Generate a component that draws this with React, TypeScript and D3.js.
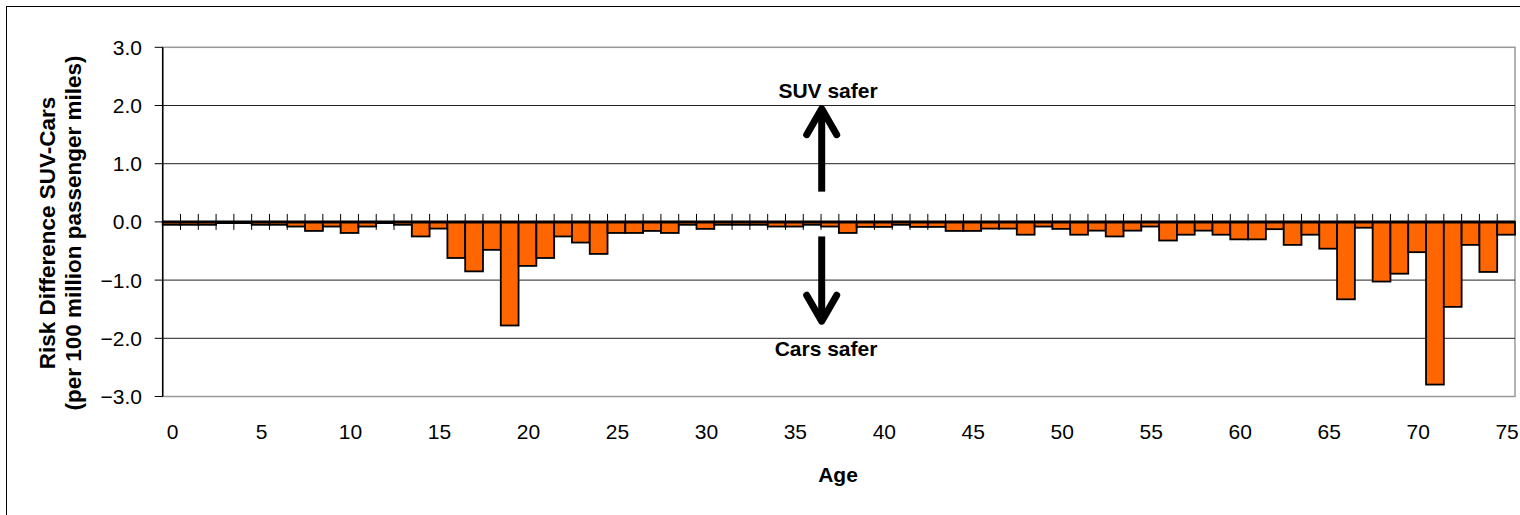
import React, { useRef, useEffect } from "react";
import * as d3 from "d3";

// ages 0..75
const ages: number[] = d3.range(0, 76);

// risk difference SUV-Cars per age
const riskDiff: number[] = [
  -0.05, -0.05, -0.05, -0.02, -0.02, -0.05, -0.05, -0.08, -0.155, -0.08,
  -0.19, -0.08, -0.02, -0.05, -0.25, -0.115, -0.62, -0.85, -0.48, -1.78,
  -0.756, -0.62, -0.25, -0.355, -0.55, -0.19, -0.19, -0.155, -0.19, -0.05,
  -0.12, -0.05, -0.05, -0.05, -0.08, -0.08, -0.05, -0.08, -0.19, -0.086,
  -0.086, -0.05, -0.086, -0.086, -0.155, -0.155, -0.115, -0.115, -0.22, -0.08,
  -0.12, -0.22, -0.15, -0.25, -0.15, -0.08, -0.32, -0.22, -0.15, -0.22,
  -0.3, -0.3, -0.125, -0.395, -0.22, -0.46, -1.33, -0.1, -1.025, -0.89,
  -0.52, -2.795, -1.46, -0.395, -0.86, -0.22,
];

const yTicks: number[] = [3, 2, 1, 0, -1, -2, -3];
const xLabelAges: number[] = [0, 5, 10, 15, 20, 25, 30, 35, 40, 45, 50, 55, 60, 65, 70, 75];

const FONT = "Arial, 'Liberation Sans', sans-serif";

const RiskChart = ({ width = 1520, height = 515 }) => {
  const ref = useRef<SVGSVGElement>(null);

  useEffect(() => {
    const svg = d3.select(ref.current);
    svg.selectAll("*").remove();

    const left = 162.7;
    const right = 1515;
    const top = 47.3;
    const bottom = 396.5;

    const x = d3
      .scaleBand<number>()
      .domain(ages)
      .range([left, right])
      .paddingInner(0)
      .paddingOuter(0);

    const y = d3.scaleLinear().domain([-3, 3]).range([bottom, top]);

    // chart area border
    svg
      .append("rect")
      .attr("x", 6.5)
      .attr("y", 6.5)
      .attr("width", width + 20)
      .attr("height", height + 20)
      .attr("fill", "white")
      .attr("stroke", "#000")
      .attr("stroke-width", 1);

    // plot area border
    svg
      .append("rect")
      .attr("x", left)
      .attr("y", top)
      .attr("width", right - left)
      .attr("height", bottom - top)
      .attr("fill", "none")
      .attr("stroke", "#999")
      .attr("stroke-width", 1.5);

    // gridlines
    svg
      .append("g")
      .selectAll("line")
      .data(yTicks.filter((d) => d !== 0 && Math.abs(d) !== 3))
      .enter()
      .append("line")
      .attr("x1", left)
      .attr("x2", right)
      .attr("y1", (d) => y(d))
      .attr("y2", (d) => y(d))
      .attr("stroke", "#222")
      .attr("stroke-width", 1);

    // bars
    svg
      .append("g")
      .selectAll("rect")
      .data(riskDiff)
      .enter()
      .append("rect")
      .attr("x", (d, i) => x(ages[i])!)
      .attr("width", x.bandwidth())
      .attr("y", (d) => y(Math.max(0, d)))
      .attr("height", (d) => Math.abs(y(d) - y(0)))
      .attr("fill", "#FF6600")
      .attr("stroke", "#000")
      .attr("stroke-width", 1.8);

    // x axis (zero line) with ticks crossing it
    svg
      .append("line")
      .attr("x1", left)
      .attr("x2", right)
      .attr("y1", y(0))
      .attr("y2", y(0))
      .attr("stroke", "#000")
      .attr("stroke-width", 3);

    svg
      .append("g")
      .selectAll("line")
      .data(ages.slice(1))
      .enter()
      .append("line")
      .attr("x1", (d) => x(d)!)
      .attr("x2", (d) => x(d)!)
      .attr("y1", y(0) - 8)
      .attr("y2", y(0) + 8)
      .attr("stroke", "#000")
      .attr("stroke-width", 1);

    // x labels
    svg
      .append("g")
      .selectAll("text")
      .data(xLabelAges)
      .enter()
      .append("text")
      .attr("x", (d) => x(d)! + x.bandwidth() / 2 + 1)
      .attr("y", 439)
      .attr("text-anchor", "middle")
      .attr("font-family", FONT)
      .attr("font-size", 21)
      .text((d) => d);

    // y axis
    svg
      .append("line")
      .attr("x1", left)
      .attr("x2", left)
      .attr("y1", top)
      .attr("y2", bottom)
      .attr("stroke", "#000")
      .attr("stroke-width", 1.5);

    const yAxis = svg.append("g");
    yAxis
      .selectAll("line")
      .data(yTicks)
      .enter()
      .append("line")
      .attr("x1", left - 8)
      .attr("x2", left)
      .attr("y1", (d) => y(d))
      .attr("y2", (d) => y(d))
      .attr("stroke", "#000")
      .attr("stroke-width", 1);
    yAxis
      .selectAll("text")
      .data(yTicks)
      .enter()
      .append("text")
      .attr("x", 142)
      .attr("y", (d) => y(d))
      .attr("dy", "0.36em")
      .attr("text-anchor", "end")
      .attr("font-family", FONT)
      .attr("font-size", 21)
      .text((d) => d3.format(".1f")(d));

    // axis titles
    const yTitle = svg
      .append("text")
      .attr("transform", "translate(55,233) rotate(-90)")
      .attr("text-anchor", "middle")
      .attr("font-family", FONT)
      .attr("font-size", 22.5)
      .attr("font-weight", "bold");
    yTitle.append("tspan").attr("x", 0).attr("y", 0).text("Risk Difference SUV-Cars");
    yTitle.append("tspan").attr("x", 0).attr("y", 26).text("(per 100 million passenger miles)");

    svg
      .append("text")
      .attr("x", 838)
      .attr("y", 482)
      .attr("text-anchor", "middle")
      .attr("font-family", FONT)
      .attr("font-size", 21)
      .attr("font-weight", "bold")
      .text("Age");

    // annotations
    const ax = 821.7;
    const arrows = svg.append("g").attr("stroke", "#000").attr("fill", "none")
      .attr("stroke-width", 7).attr("stroke-linecap", "round").attr("stroke-linejoin", "round");

    const up0 = y(0.52), up1 = y(1.98);
    arrows.append("line").attr("x1", ax).attr("x2", ax).attr("y1", up0).attr("y2", up1 + 3).attr("stroke-linecap", "butt");
    arrows.append("path").attr("d", `M${ax - 15},${up1 + 28} L${ax},${up1 + 2} L${ax + 15},${up1 + 28}`);

    const dn0 = y(-0.25), dn1 = y(-1.74);
    arrows.append("line").attr("x1", ax).attr("x2", ax).attr("y1", dn0).attr("y2", dn1 - 3).attr("stroke-linecap", "butt");
    arrows.append("path").attr("d", `M${ax - 15},${dn1 - 28} L${ax},${dn1 - 2} L${ax + 15},${dn1 - 28}`);

    svg
      .append("text")
      .attr("x", 828)
      .attr("y", 98)
      .attr("text-anchor", "middle")
      .attr("font-family", FONT)
      .attr("font-size", 21)
      .attr("font-weight", "bold")
      .text("SUV safer");

    svg
      .append("text")
      .attr("x", 826)
      .attr("y", 356)
      .attr("text-anchor", "middle")
      .attr("font-family", FONT)
      .attr("font-size", 21)
      .attr("font-weight", "bold")
      .text("Cars safer");
  }, [width, height]);

  return (
    <svg
      ref={ref}
      width={width}
      height={height}
      style={{ position: "absolute", left: 0, top: 0, display: "block" }}
    />
  );
};

export default function App() {
  return <RiskChart />;
}
